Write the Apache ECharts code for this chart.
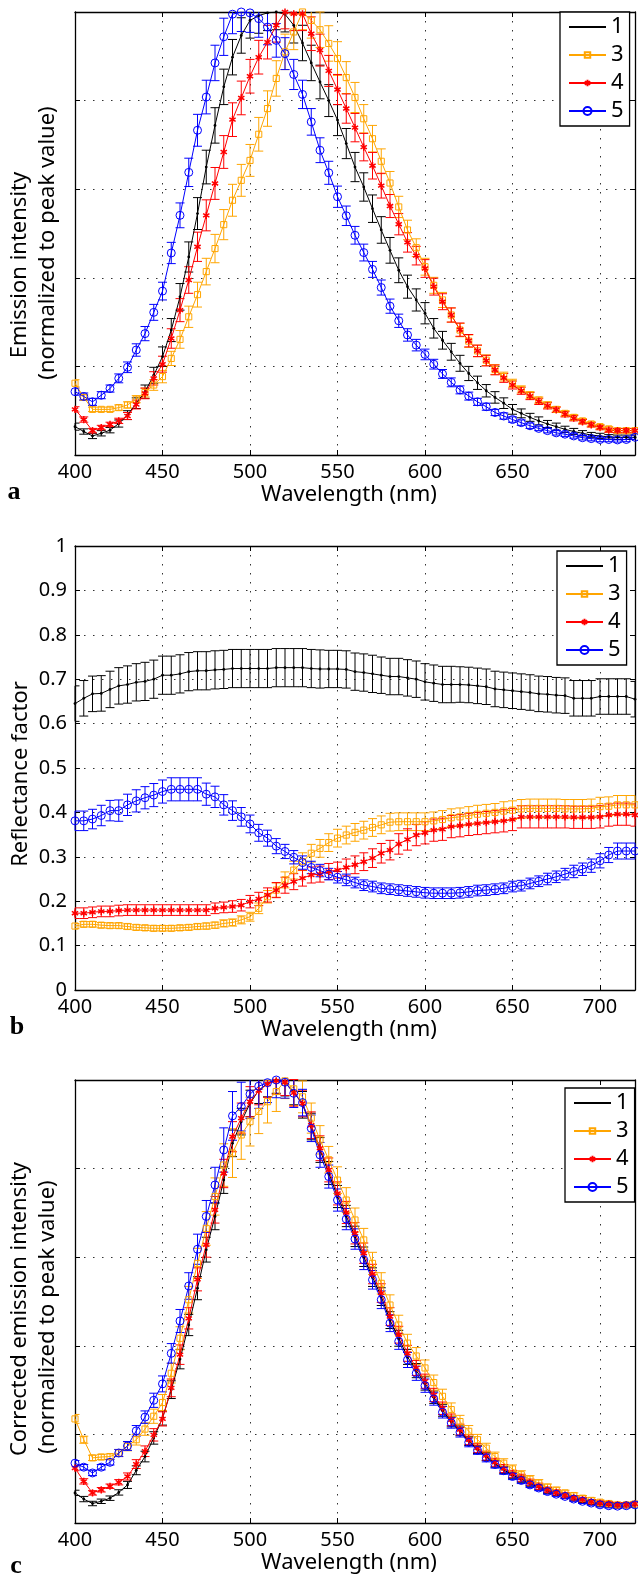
<!DOCTYPE html>
<html><head><meta charset="utf-8">
<script src="https://cdn.jsdelivr.net/npm/echarts/dist/echarts.min.js"></script>
<style>html,body{margin:0;padding:0;background:#fff}#c{width:638px;height:1579px}</style>
</head><body><div id="c"></div>
<script>
const wavelengths = [
400,405,410,415,420,425,430,435,440,445,450,455,460,
465,470,475,480,485,490,495,500,505,510,515,520,525,
530,535,540,545,550,555,560,565,570,575,580,585,590,
595,600,605,610,615,620,625,630,635,640,645,650,655,
660,665,670,675,680,685,690,695,700,705,710,715,720];

const seriesNames = ['1','3','4','5'];
const xTicks = [400,450,500,550,600,650,700];

// ---- Panel a: emission intensity (normalized) ----
const emis1 = [
0.064,0.053,0.043,0.049,0.056,0.071,0.090,0.117,0.143,0.180,0.222,0.282,0.357,
0.447,0.545,0.650,0.744,0.831,0.898,0.947,0.981,0.992,0.998,1.000,0.995,0.970,
0.930,0.885,0.842,0.800,0.756,0.703,0.650,0.605,0.556,0.508,0.462,0.417,0.380,
0.350,0.320,0.286,0.259,0.233,0.207,0.184,0.163,0.145,0.130,0.117,0.103,0.094,
0.085,0.077,0.070,0.064,0.058,0.053,0.049,0.045,0.043,0.041,0.040,0.040,0.040];
const emis3 = [
0.162,0.130,0.103,0.103,0.103,0.107,0.113,0.126,0.141,0.158,0.177,0.218,0.261,
0.312,0.362,0.414,0.466,0.520,0.575,0.620,0.665,0.724,0.782,0.850,0.910,0.955,
1.000,0.981,0.960,0.929,0.895,0.852,0.807,0.759,0.714,0.663,0.614,0.560,0.508,
0.468,0.425,0.383,0.350,0.316,0.282,0.257,0.235,0.214,0.193,0.177,0.162,0.148,
0.135,0.124,0.113,0.103,0.094,0.085,0.077,0.070,0.064,0.059,0.055,0.055,0.055];
const emis4 = [
0.103,0.080,0.055,0.062,0.069,0.077,0.088,0.114,0.139,0.173,0.205,0.263,0.327,
0.395,0.470,0.541,0.613,0.684,0.757,0.806,0.855,0.898,0.932,0.970,1.000,0.996,
0.996,0.951,0.914,0.867,0.825,0.782,0.739,0.695,0.653,0.608,0.562,0.521,0.480,
0.450,0.421,0.380,0.346,0.316,0.283,0.258,0.235,0.213,0.192,0.174,0.158,0.145,
0.133,0.121,0.111,0.102,0.092,0.083,0.075,0.068,0.062,0.056,0.055,0.055,0.055];
const emis5 = [
0.143,0.132,0.120,0.135,0.150,0.173,0.198,0.237,0.274,0.322,0.370,0.456,0.541,
0.638,0.733,0.808,0.885,0.944,0.995,1.000,0.998,0.985,0.966,0.936,0.906,0.859,
0.814,0.752,0.688,0.637,0.583,0.540,0.496,0.457,0.419,0.378,0.336,0.303,0.271,
0.248,0.227,0.205,0.183,0.164,0.147,0.133,0.120,0.109,0.096,0.088,0.080,0.073,
0.066,0.060,0.055,0.050,0.047,0.043,0.039,0.037,0.035,0.035,0.034,0.035,0.040];
const emis1Err = [
0.008,0.006,0.006,0.006,0.006,0.008,0.010,0.012,0.015,0.018,0.022,0.026,0.030,
0.034,0.036,0.038,0.040,0.040,0.040,0.040,0.040,0.040,0.040,0.040,0.040,0.040,
0.040,0.040,0.038,0.036,0.035,0.034,0.033,0.032,0.031,0.030,0.029,0.028,0.026,
0.025,0.024,0.022,0.020,0.019,0.018,0.016,0.015,0.014,0.013,0.012,0.011,0.010,
0.009,0.009,0.008,0.008,0.007,0.007,0.006,0.006,0.006,0.005,0.005,0.005,0.005];
const emis3Err = [
0.008,0.006,0.005,0.005,0.005,0.006,0.007,0.008,0.010,0.012,0.014,0.016,0.020,
0.024,0.028,0.030,0.032,0.034,0.036,0.036,0.036,0.038,0.040,0.040,0.040,0.040,
0.040,0.040,0.040,0.040,0.038,0.036,0.034,0.032,0.030,0.028,0.026,0.024,0.022,
0.020,0.019,0.018,0.017,0.016,0.015,0.014,0.013,0.012,0.011,0.010,0.009,0.008,
0.008,0.007,0.007,0.006,0.006,0.006,0.005,0.005,0.005,0.005,0.005,0.005,0.005];
const emis4Err = [
0.006,0.006,0.005,0.005,0.005,0.006,0.008,0.010,0.012,0.015,0.018,0.022,0.026,
0.030,0.033,0.035,0.036,0.037,0.038,0.038,0.038,0.038,0.038,0.038,0.038,0.038,
0.038,0.038,0.036,0.035,0.034,0.033,0.032,0.031,0.030,0.028,0.026,0.024,0.022,
0.021,0.020,0.019,0.018,0.016,0.015,0.014,0.013,0.012,0.011,0.010,0.009,0.008,
0.008,0.007,0.007,0.006,0.006,0.006,0.005,0.005,0.005,0.005,0.005,0.005,0.005];
const emis5Err = [
0.008,0.008,0.008,0.008,0.008,0.010,0.012,0.014,0.016,0.018,0.020,0.024,0.028,
0.032,0.036,0.038,0.040,0.042,0.044,0.044,0.044,0.042,0.040,0.038,0.036,0.034,
0.032,0.030,0.028,0.026,0.024,0.022,0.020,0.019,0.018,0.017,0.016,0.015,0.014,
0.013,0.012,0.011,0.010,0.010,0.009,0.009,0.008,0.008,0.007,0.007,0.006,0.006,
0.006,0.005,0.005,0.005,0.005,0.005,0.005,0.005,0.005,0.005,0.005,0.005,0.005];

// ---- Panel b: reflectance factor ----
const refl1 = [
0.645,0.657,0.667,0.668,0.677,0.685,0.688,0.693,0.695,0.700,0.709,0.709,0.712,
0.717,0.719,0.719,0.721,0.722,0.724,0.724,0.724,0.724,0.724,0.726,0.726,0.726,
0.726,0.724,0.723,0.723,0.723,0.722,0.717,0.715,0.712,0.709,0.706,0.706,0.703,
0.700,0.694,0.691,0.688,0.688,0.688,0.687,0.685,0.683,0.678,0.676,0.674,0.672,
0.670,0.667,0.666,0.664,0.663,0.657,0.657,0.657,0.661,0.661,0.661,0.661,0.655];
const refl3 = [
0.144,0.148,0.148,0.146,0.145,0.145,0.143,0.141,0.140,0.139,0.139,0.139,0.140,
0.141,0.143,0.144,0.146,0.150,0.152,0.158,0.165,0.184,0.210,0.225,0.248,0.270,
0.289,0.308,0.319,0.332,0.342,0.349,0.355,0.360,0.366,0.372,0.378,0.379,0.379,
0.379,0.379,0.381,0.384,0.388,0.390,0.393,0.396,0.398,0.400,0.403,0.405,0.408,
0.409,0.409,0.409,0.409,0.408,0.408,0.408,0.409,0.413,0.414,0.417,0.417,0.417];
const refl4 = [
0.173,0.173,0.175,0.177,0.177,0.179,0.180,0.180,0.180,0.180,0.180,0.180,0.180,
0.180,0.180,0.180,0.184,0.186,0.188,0.191,0.199,0.205,0.214,0.225,0.236,0.244,
0.252,0.259,0.261,0.267,0.270,0.276,0.282,0.289,0.297,0.308,0.315,0.329,0.339,
0.349,0.354,0.360,0.362,0.368,0.370,0.373,0.375,0.377,0.379,0.381,0.384,0.390,
0.390,0.390,0.390,0.390,0.390,0.389,0.389,0.389,0.390,0.394,0.396,0.396,0.394];
const refl5 = [
0.381,0.381,0.385,0.393,0.404,0.404,0.417,0.426,0.433,0.439,0.447,0.452,0.452,
0.452,0.452,0.441,0.435,0.417,0.404,0.390,0.374,0.354,0.342,0.324,0.312,0.299,
0.287,0.276,0.269,0.261,0.254,0.248,0.242,0.236,0.233,0.229,0.227,0.225,0.223,
0.221,0.219,0.218,0.218,0.218,0.219,0.221,0.224,0.225,0.227,0.229,0.233,0.235,
0.240,0.245,0.250,0.255,0.261,0.267,0.272,0.280,0.291,0.304,0.313,0.313,0.313];
const refl1Err = [
0.040,0.040,0.040,0.040,0.041,0.041,0.042,0.042,0.043,0.043,0.043,0.043,0.043,
0.043,0.043,0.043,0.043,0.043,0.043,0.043,0.043,0.043,0.043,0.043,0.043,0.043,
0.043,0.043,0.043,0.042,0.042,0.042,0.042,0.042,0.042,0.041,0.041,0.041,0.041,
0.041,0.041,0.041,0.041,0.041,0.040,0.040,0.040,0.040,0.040,0.040,0.040,0.040,
0.040,0.040,0.040,0.040,0.040,0.040,0.040,0.040,0.040,0.040,0.040,0.040,0.040];
const refl3Err = [
0.006,0.006,0.006,0.006,0.006,0.006,0.006,0.006,0.006,0.006,0.006,0.006,0.006,
0.006,0.006,0.007,0.007,0.008,0.008,0.009,0.010,0.012,0.014,0.016,0.018,0.020,
0.020,0.020,0.020,0.020,0.020,0.020,0.020,0.020,0.020,0.020,0.020,0.020,0.020,
0.020,0.020,0.020,0.020,0.020,0.020,0.020,0.020,0.020,0.020,0.021,0.021,0.021,
0.021,0.021,0.021,0.021,0.021,0.021,0.021,0.021,0.021,0.021,0.021,0.021,0.021];
const refl4Err = [
0.012,0.012,0.012,0.012,0.012,0.012,0.012,0.012,0.012,0.012,0.012,0.012,0.012,
0.012,0.012,0.012,0.012,0.012,0.013,0.013,0.014,0.015,0.016,0.017,0.018,0.018,
0.018,0.018,0.018,0.018,0.018,0.019,0.020,0.020,0.021,0.022,0.022,0.023,0.024,
0.024,0.025,0.025,0.025,0.025,0.025,0.025,0.025,0.025,0.025,0.025,0.025,0.025,
0.025,0.025,0.025,0.025,0.025,0.025,0.025,0.025,0.025,0.025,0.025,0.025,0.025];
const refl5Err = [
0.022,0.022,0.022,0.023,0.023,0.024,0.024,0.025,0.025,0.026,0.026,0.026,0.026,
0.026,0.026,0.025,0.024,0.023,0.022,0.021,0.020,0.019,0.018,0.017,0.016,0.015,
0.015,0.014,0.014,0.013,0.013,0.013,0.012,0.012,0.012,0.012,0.012,0.012,0.012,
0.012,0.012,0.012,0.012,0.012,0.012,0.012,0.012,0.012,0.012,0.012,0.012,0.012,
0.012,0.012,0.013,0.013,0.013,0.014,0.014,0.015,0.016,0.017,0.018,0.018,0.018];

// ---- Panel c: corrected emission intensity ----
const corr1 = [
0.068,0.054,0.044,0.049,0.056,0.069,0.086,0.119,0.150,0.192,0.237,0.301,0.370,
0.447,0.530,0.617,0.692,0.774,0.857,0.906,0.947,0.977,0.992,1.000,0.994,0.974,
0.944,0.895,0.842,0.790,0.737,0.693,0.647,0.601,0.555,0.511,0.458,0.417,0.375,
0.344,0.315,0.284,0.254,0.229,0.208,0.185,0.166,0.150,0.134,0.120,0.108,0.099,
0.089,0.081,0.073,0.067,0.061,0.055,0.051,0.047,0.043,0.041,0.040,0.040,0.041];
const corr3 = [
0.235,0.188,0.147,0.149,0.150,0.158,0.173,0.188,0.212,0.241,0.272,0.338,0.417,
0.504,0.586,0.665,0.737,0.808,0.835,0.876,0.906,0.929,0.951,0.974,0.998,0.980,
0.962,0.914,0.865,0.820,0.774,0.729,0.684,0.639,0.586,0.541,0.492,0.447,0.406,
0.377,0.350,0.317,0.286,0.256,0.229,0.207,0.188,0.169,0.150,0.135,0.122,0.109,
0.099,0.090,0.081,0.074,0.068,0.062,0.056,0.051,0.047,0.044,0.041,0.041,0.043];
const corr4 = [
0.124,0.094,0.068,0.075,0.083,0.092,0.105,0.133,0.162,0.199,0.235,0.305,0.380,
0.462,0.550,0.628,0.707,0.789,0.872,0.914,0.951,0.976,0.991,0.998,0.995,0.971,
0.947,0.898,0.846,0.797,0.744,0.701,0.654,0.609,0.562,0.519,0.466,0.425,0.383,
0.350,0.320,0.289,0.259,0.233,0.211,0.188,0.169,0.152,0.137,0.123,0.111,0.102,
0.092,0.083,0.075,0.069,0.063,0.057,0.053,0.048,0.045,0.043,0.041,0.041,0.043];
const corr5 = [
0.135,0.126,0.113,0.126,0.137,0.158,0.174,0.208,0.239,0.277,0.314,0.383,0.456,
0.535,0.618,0.692,0.763,0.842,0.919,0.940,0.968,0.986,0.994,1.000,0.995,0.970,
0.949,0.891,0.831,0.782,0.729,0.686,0.641,0.594,0.549,0.504,0.451,0.410,0.368,
0.338,0.310,0.280,0.250,0.226,0.205,0.182,0.164,0.147,0.132,0.118,0.105,0.096,
0.086,0.079,0.071,0.065,0.060,0.054,0.049,0.045,0.041,0.039,0.038,0.039,0.041];
const corr1Err = [
0.006,0.006,0.005,0.005,0.005,0.006,0.008,0.010,0.012,0.014,0.016,0.020,0.022,
0.024,0.026,0.028,0.030,0.030,0.030,0.030,0.030,0.030,0.030,0.030,0.030,0.030,
0.030,0.030,0.028,0.026,0.025,0.024,0.023,0.022,0.021,0.020,0.019,0.018,0.017,
0.016,0.015,0.014,0.013,0.012,0.011,0.010,0.009,0.009,0.008,0.008,0.007,0.007,
0.006,0.006,0.006,0.005,0.005,0.005,0.005,0.005,0.005,0.005,0.005,0.005,0.005];
const corr3Err = [
0.010,0.008,0.006,0.006,0.006,0.008,0.010,0.012,0.014,0.016,0.018,0.022,0.026,
0.030,0.034,0.038,0.042,0.048,0.055,0.055,0.055,0.050,0.048,0.045,0.040,0.038,
0.036,0.034,0.032,0.030,0.030,0.028,0.027,0.026,0.025,0.024,0.023,0.022,0.020,
0.019,0.018,0.017,0.016,0.015,0.014,0.013,0.012,0.011,0.010,0.010,0.009,0.009,
0.008,0.008,0.007,0.007,0.006,0.006,0.006,0.006,0.005,0.005,0.005,0.005,0.005];
const corr4Err = [
0.006,0.006,0.005,0.005,0.005,0.006,0.008,0.010,0.012,0.014,0.016,0.020,0.022,
0.024,0.026,0.028,0.030,0.032,0.034,0.034,0.034,0.032,0.030,0.030,0.030,0.030,
0.030,0.030,0.028,0.027,0.026,0.025,0.024,0.023,0.022,0.021,0.020,0.019,0.018,
0.017,0.016,0.015,0.014,0.013,0.012,0.011,0.010,0.010,0.009,0.009,0.008,0.008,
0.007,0.007,0.006,0.006,0.006,0.005,0.005,0.005,0.005,0.005,0.005,0.005,0.005];
const corr5Err = [
0.006,0.006,0.006,0.006,0.006,0.008,0.010,0.012,0.014,0.016,0.018,0.022,0.026,
0.030,0.034,0.036,0.040,0.050,0.055,0.055,0.055,0.050,0.045,0.040,0.036,0.032,
0.030,0.030,0.028,0.026,0.025,0.024,0.023,0.022,0.021,0.020,0.019,0.018,0.017,
0.016,0.015,0.014,0.013,0.012,0.011,0.010,0.009,0.009,0.008,0.008,0.007,0.007,
0.006,0.006,0.006,0.005,0.005,0.005,0.005,0.005,0.005,0.005,0.005,0.005,0.005];

// ---------------- chart ----------------
const FONT = '"Noto Sans", sans-serif';
const colors = ['#000000','#FFA500','#FF0000','#0000FF'];
// markers drawn inside a 10x10 box (corner moveTo points fix the box size)
const symbols = [
  'path://M0,0M10,10M5,3.6A1.4,1.4,0,1,1,5,6.4A1.4,1.4,0,1,1,5,3.6Z',
  'path://M0,0M10,10M1.6,1.6L8.4,1.6L8.4,8.4L1.6,8.4Z',
  'path://M0,0M10,10M5,1L5,9M1.5,3L8.5,7M1.5,7L8.5,3',
  'circle'];
const symSizes = [10,9,9,8];

const panels = [
  {vals:[emis1,emis3,emis4,emis5], errs:[emis1Err,emis3Err,emis4Err,emis5Err]},
  {vals:[refl1,refl3,refl4,refl5], errs:[refl1Err,refl3Err,refl4Err,refl5Err]},
  {vals:[corr1,corr3,corr4,corr5], errs:[corr1Err,corr3Err,corr4Err,corr5Err]}
];
const grids = [
  {left:75, top:12, width:562, height:443},
  {left:75, top:546, width:562, height:444},
  {left:75, top:1080, width:562, height:443}
];

function errRenderer(col){
  return function(params, api){
    const x = api.value(0), y = api.value(1), e = api.value(2);
    const pt = api.coord([x, y + e]);
    const pb = api.coord([x, y - e]);
    const cs = params.coordSys;
    const y0 = cs.y, y1 = cs.y + cs.height, x0 = cs.x, x1 = cs.x + cs.width;
    const cl = v => Math.max(y0, Math.min(y1, v));
    const hw = 4.5;
    const st = {stroke: col, lineWidth: 1, fill: null};
    const ch = [{type:'line', shape:{x1:pt[0], y1:cl(pt[1]), x2:pt[0], y2:cl(pb[1])}, style:st}];
    const cx1 = Math.max(x0, pt[0]-hw), cx2 = Math.min(x1, pt[0]+hw);
    if (pt[1] >= y0 - 0.5) ch.push({type:'line', shape:{x1:cx1, y1:pt[1], x2:cx2, y2:pt[1]}, style:st});
    if (pb[1] <= y1 + 0.5) ch.push({type:'line', shape:{x1:cx1, y1:pb[1], x2:cx2, y2:pb[1]}, style:st});
    return {type:'group', children: ch};
  };
}

const series = [];
panels.forEach((p, gi) => {
  for (let k = 0; k < 4; k++) {
    const col = colors[k];
    series.push({
      type:'custom', name:'err_'+gi+'_'+k, xAxisIndex: gi*2, yAxisIndex: gi*2,
      data: wavelengths.map((w,i) => [w, p.vals[k][i], p.errs[k][i]]),
      encode: {x:0, y:1},
      renderItem: errRenderer(col), silent:true, animation:false, z:2
    });
    let itemStyle;
    if (k === 0) itemStyle = {color: col, borderWidth: 0};
    else if (k === 2) itemStyle = {color: col, borderColor: col, borderWidth: 1.5};
    else itemStyle = {color:'rgba(255,255,255,0)', borderColor: col, borderWidth: 1};
    series.push({
      type:'line', name: seriesNames[k], xAxisIndex: gi*2, yAxisIndex: gi*2,
      data: wavelengths.map((w,i) => [w, p.vals[k][i]]),
      symbol: symbols[k], symbolSize: symSizes[k], showSymbol:true, showAllSymbol:true,
      lineStyle: {color: col, width: 1},
      itemStyle: itemStyle,
      emphasis: {disabled:true}, animation:false, z:3
    });
  }
});

const axisLineStyle = {color:'#000', width:1.3};
const xAxis = [], yAxis = [];
grids.forEach((g, gi) => {
  xAxis.push({
    type:'value', gridIndex: gi, min:400, max:720, interval:50, position:'bottom',
    axisLine:{onZero:false, lineStyle:axisLineStyle},
    axisTick:{inside:true, length:5, lineStyle:{color:'#000'}},
    axisLabel:{color:'#000', fontFamily:FONT, fontSize:20, margin:7,
      formatter: v => xTicks.indexOf(v) >= 0 ? String(v) : ''},
    splitLine:{show:true, lineStyle:{color:'#333', type:[1.5,7.5], width:1}},
    name:'Wavelength (nm)', nameLocation:'middle', nameGap:29,
    nameTextStyle:{color:'#000', fontFamily:FONT, fontSize:22, padding:[0,12,0,0]}
  });
  xAxis.push({
    type:'value', gridIndex: gi, min:400, max:720, interval:50, position:'top',
    axisLine:{onZero:false, lineStyle:axisLineStyle},
    axisTick:{inside:true, length:5, lineStyle:{color:'#000'}},
    axisLabel:{show:false}, splitLine:{show:false}
  });
  const iv = gi === 1 ? 0.1 : 0.2;
  yAxis.push({
    type:'value', gridIndex: gi, min:0, max:1, interval: iv, position:'left',
    axisLine:{onZero:false, lineStyle:axisLineStyle},
    axisTick:{inside:true, length:5, lineStyle:{color:'#000'}},
    axisLabel:{show: gi === 1, color:'#000', fontFamily:FONT, fontSize:20, margin:8},
    splitLine:{show:true, lineStyle:{color:'#333', type:[1.5,7.5], width:1}}
  });
  yAxis.push({
    type:'value', gridIndex: gi, min:0, max:1, interval: iv, position:'right',
    axisLine:{onZero:false, lineStyle:axisLineStyle},
    axisTick:{inside:true, length:5, lineStyle:{color:'#000'}},
    axisLabel:{show:false}, splitLine:{show:false}
  });
});

const legendPos = [{left:560, top:12}, {left:557, top:551}, {left:565, top:1088}];
const legend = legendPos.map(pos => ({
  data: seriesNames, orient:'vertical', left: pos.left, top: pos.top,
  itemWidth:37, itemHeight:10, itemGap:6, padding:[4,6,4,8],
  borderColor:'#000', borderWidth:1.3, backgroundColor:'#fff',
  textStyle:{fontFamily:FONT, fontSize:22, color:'#000', lineHeight:22},
  selectedMode:false
}));

function vText(txt, x, y){
  return {type:'text', x:x, y:y, rotation:Math.PI/2, z:10,
    style:{text:txt, fill:'#000', font:'22px ' + FONT,
      textAlign:'center', textVerticalAlign:'middle', align:'center', verticalAlign:'middle'}};
}
function pLabel(txt, x, y){
  return {type:'text', x:x, y:y, z:10,
    style:{text:txt, fill:'#000', font:'bold 26px "Liberation Serif", serif',
      textAlign:'center', textVerticalAlign:'middle', align:'center', verticalAlign:'middle'}};
}
const graphic = [
  vText('Emission intensity', 20, 265),
  vText('(normalized to peak value)', 48, 243),
  vText('Reflectance factor', 21, 774),
  vText('Corrected emission intensity', 20, 1309),
  vText('(normalized to peak value)', 48, 1317),
  pLabel('a', 14, 492),
  pLabel('b', 17, 1027),
  pLabel('c', 16, 1566)
];

const chart = echarts.init(document.getElementById('c'), null, {renderer:'canvas'});
chart.setOption({
  animation:false, backgroundColor:'#fff',
  grid: grids, xAxis: xAxis, yAxis: yAxis, series: series, legend: legend, graphic: graphic
});
</script></body></html>
